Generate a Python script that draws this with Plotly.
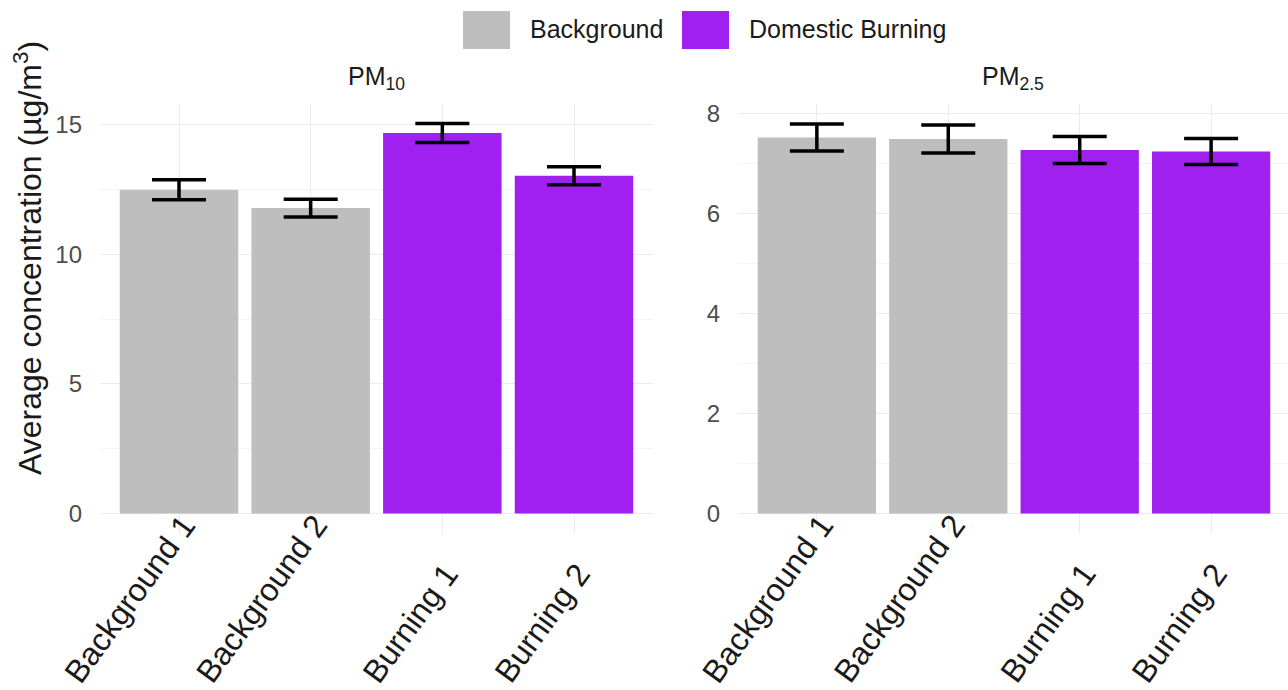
import plotly.graph_objects as go

categories = ["Background 1", "Background 2", "Burning 1", "Burning 2"]
groups = ["Background", "Background", "Domestic Burning", "Domestic Burning"]
group_names = ["Background", "Domestic Burning"]
group_colors = {"Background": "#BEBEBE", "Domestic Burning": "#A020F0"}

pm10_mean = [12.50, 11.79, 14.69, 13.04]
pm10_err = [0.39, 0.34, 0.37, 0.35]
pm25_mean = [7.53, 7.50, 7.28, 7.25]
pm25_err = [0.27, 0.28, 0.27, 0.26]

W, H = 1288, 690
L, R, T, B = 100, 0, 104, 157
PW, PH = W - L - R, H - T - B


def px2x(px):
    return (px - L) / PW


def py2y(py):
    return (H - B - py) / PH


panels = [(pm10_mean, pm10_err, "x", "y"), (pm25_mean, pm25_err, "x2", "y2")]

fig = go.Figure()
for pi, (means, errs, xa, ya) in enumerate(panels):
    for g in group_names:
        idx = [i for i, gg in enumerate(groups) if gg == g]
        fig.add_trace(go.Bar(
            x=[categories[i] for i in idx],
            y=[means[i] for i in idx],
            error_y=dict(type="data", array=[errs[i] for i in idx],
                         color="black", thickness=3.5, width=27),
            marker=dict(color=group_colors[g], line=dict(width=0)),
            name=g, legendgroup=g, showlegend=False,
            xaxis=xa, yaxis=ya, width=0.9,
        ))

FONT = "Liberation Sans, Arial, sans-serif"
ytickfont = dict(family=FONT, size=24, color="#4D4D4D")
xcommon = dict(type="category", categoryorder="array", categoryarray=categories,
               showticklabels=False, showgrid=True, gridcolor="#EBEBEB",
               gridwidth=1.2, zeroline=False, showline=False, ticks="", automargin=False)
ycommon = dict(tickfont=ytickfont, showgrid=True, gridcolor="#EBEBEB", gridwidth=1.2,
               zeroline=False, showline=False, ticks="", automargin=False,
               ticklabelstandoff=17)

shapes = []
annotations = []

# custom legend (large square keys like the reference)
key_left = [463, 682]
for g, kx in zip(group_names, key_left):
    shapes.append(dict(type="rect", xref="paper", yref="paper",
                       x0=px2x(kx), x1=px2x(kx + 47), y0=py2y(49), y1=py2y(11),
                       fillcolor=group_colors[g], line=dict(width=0), layer="above"))
    annotations.append(dict(text=g, xref="paper", yref="paper", x=px2x(kx + 65), y=py2y(29),
                            xanchor="left", yanchor="middle", showarrow=False,
                            font=dict(family=FONT, size=25, color="#1A1A1A")))

# rotated category labels, bottom-aligned as in the reference
for xa in ["x", "x2"]:
    for c in categories:
        annotations.append(dict(text=c, xref=xa, x=c, yref="paper", y=py2y(692),
                                xanchor="right", yanchor="bottom", xshift=26,
                                textangle=-54, showarrow=False,
                                font=dict(family=FONT, size=32, color="#1A1A1A")))

annotations += [
    dict(text="PM<sub>10</sub>", x=0.5, xref="x domain", y=py2y(78), yref="paper",
         showarrow=False, font=dict(family=FONT, size=25, color="#1A1A1A"), yanchor="middle"),
    dict(text="PM<sub>2.5</sub>", x=0.5, xref="x2 domain", y=py2y(78), yref="paper",
         showarrow=False, font=dict(family=FONT, size=25, color="#1A1A1A"), yanchor="middle"),
    dict(text="Average concentration (µg/m<sup>3</sup>)", x=px2x(28), xref="paper",
         y=py2y(258), yref="paper", textangle=-90, showarrow=False,
         xanchor="center", yanchor="middle",
         font=dict(family=FONT, size=32, color="#1A1A1A")),
]

fig.update_layout(
    width=W, height=H,
    margin=dict(l=L, r=R, t=T, b=B, autoexpand=False),
    plot_bgcolor="white", paper_bgcolor="white",
    barmode="overlay", showlegend=False,
    font=dict(family=FONT, color="#1A1A1A"),
    xaxis=dict(domain=[0, px2x(653)], anchor="y", range=[-0.6, 3.6], **xcommon),
    xaxis2=dict(domain=[px2x(738), 1.0], anchor="y2", range=[-0.6, 3.585], **xcommon),
    yaxis=dict(domain=[0, 1], anchor="x", range=[-0.753, 15.81], tickvals=[0, 5, 10, 15],
               minor=dict(showgrid=True, dtick=2.5, tick0=0, gridcolor="#F4F4F4", gridwidth=1),
               **ycommon),
    yaxis2=dict(domain=[0, 1], anchor="x2", range=[-0.39, 8.2], tickvals=[0, 2, 4, 6, 8],
                minor=dict(showgrid=True, dtick=1, tick0=0, gridcolor="#F4F4F4", gridwidth=1),
                **ycommon),
    shapes=shapes,
    annotations=annotations,
)

fig.write_html("out.html", config={"displayModeBar": False},
               post_script="document.body.style.margin='0';document.body.style.overflow='hidden';")
